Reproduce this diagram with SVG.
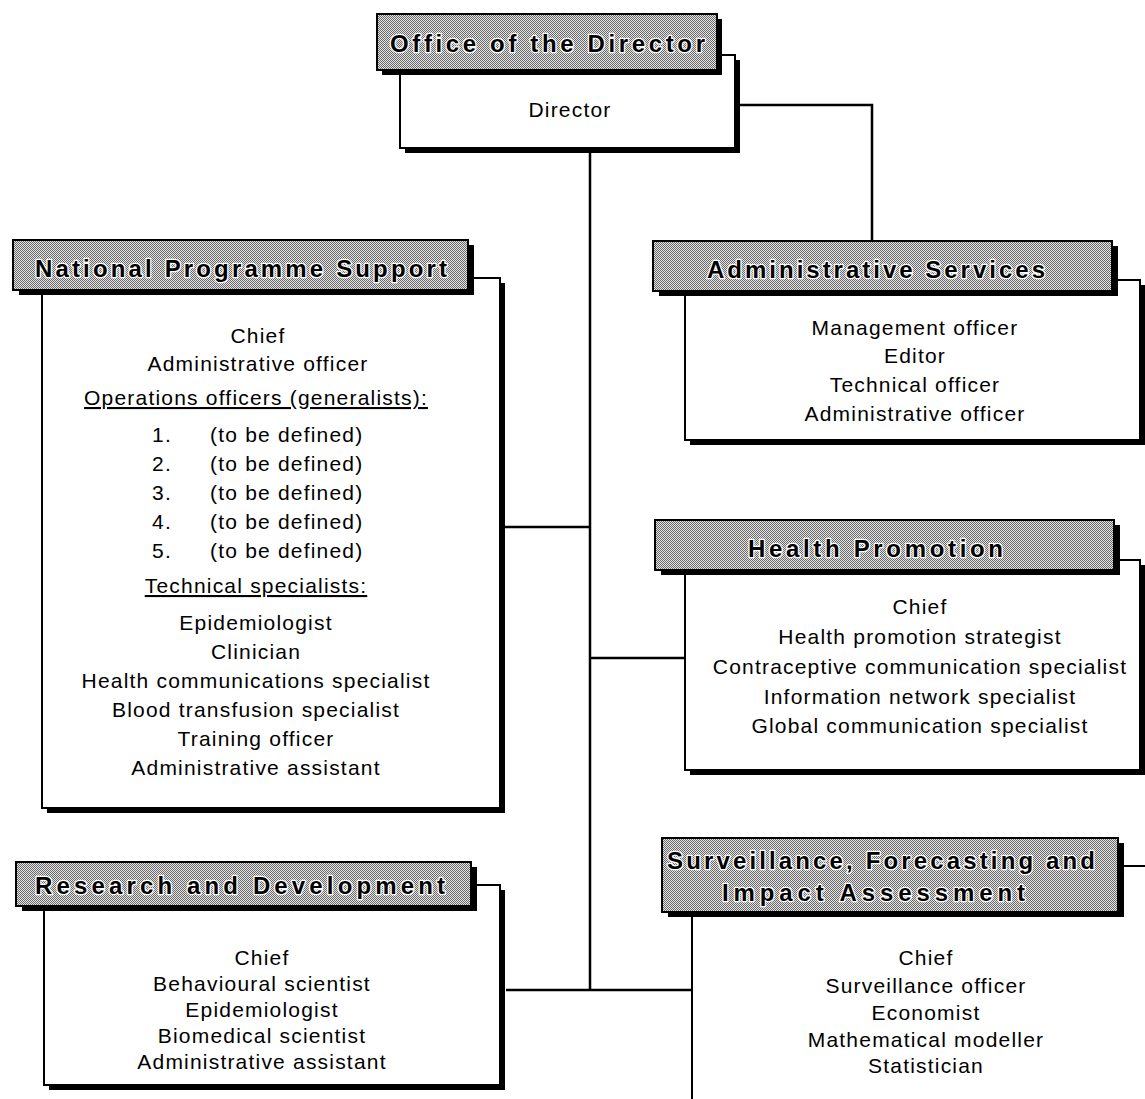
<svg xmlns="http://www.w3.org/2000/svg" width="1145" height="1099" viewBox="0 0 1145 1099">
<defs>
<pattern id="dither" width="2" height="2" patternUnits="userSpaceOnUse">
<rect width="2" height="2" fill="#e4e4e4"/>
<rect width="1" height="1" fill="#6a6a6a"/>
<rect x="1" y="1" width="1" height="1" fill="#6a6a6a"/>
</pattern>
</defs>
<style>
.sh{fill:#000}
.body{fill:#fff;stroke:#000;stroke-width:2}
.hdr{fill:url(#dither);stroke:#000;stroke-width:2}
.ht{font-family:"Liberation Sans",Arial,sans-serif;font-weight:bold;font-size:24px;fill:#000;stroke:#fff;stroke-width:2.5px;paint-order:stroke;stroke-linejoin:round}
.t{font-family:"Liberation Sans",Arial,sans-serif;font-size:21px;letter-spacing:1.2px;fill:#000}
.c{text-anchor:middle}
.u{text-decoration:underline}
.conn{fill:none;stroke:#000;stroke-width:2.5}
</style>

<g id="connectors">
<path class="conn" d="M735 105 H872 V242"/>
<path class="conn" d="M590 150 V990"/>
<path class="conn" d="M503 527 H590"/>
<path class="conn" d="M590 658 H686"/>
<path class="conn" d="M506 990 H692"/>
</g>

<g id="office-director">
<rect class="sh" x="405" y="60" width="335" height="93"/>
<rect class="body" x="400" y="55" width="335" height="93"/>
<rect class="sh" x="382" y="19" width="340" height="56"/>
<rect class="hdr" x="377" y="14" width="340" height="56"/>
<text class="ht" x="390" y="52" textLength="315" lengthAdjust="spacing">Office of the Director</text>
<text class="t c" x="570" y="117">Director</text>
</g>

<g id="national-programme-support">
<rect class="sh" x="47" y="283" width="458" height="530"/>
<rect class="body" x="42" y="278" width="458" height="530"/>
<rect class="sh" x="19" y="245" width="455" height="50"/>
<rect class="hdr" x="13" y="240" width="455" height="50"/>
<text class="ht" x="35" y="277" textLength="412" lengthAdjust="spacing">National Programme Support</text>
<text class="t c" x="258" y="343">Chief</text>
<text class="t c" x="258" y="371">Administrative officer</text>
<text class="t c u" x="256" y="405">Operations officers (generalists):</text>
<text class="t" x="152" y="442">1.</text><text class="t" x="210" y="442">(to be defined)</text>
<text class="t" x="152" y="471">2.</text><text class="t" x="210" y="471">(to be defined)</text>
<text class="t" x="152" y="500">3.</text><text class="t" x="210" y="500">(to be defined)</text>
<text class="t" x="152" y="529">4.</text><text class="t" x="210" y="529">(to be defined)</text>
<text class="t" x="152" y="558">5.</text><text class="t" x="210" y="558">(to be defined)</text>
<text class="t c u" x="256" y="593">Technical specialists:</text>
<text class="t c" x="256" y="630">Epidemiologist</text>
<text class="t c" x="256" y="659">Clinician</text>
<text class="t c" x="256" y="688">Health communications specialist</text>
<text class="t c" x="256" y="717">Blood transfusion specialist</text>
<text class="t c" x="256" y="746">Training officer</text>
<text class="t c" x="256" y="775">Administrative assistant</text>
</g>

<g id="administrative-services">
<rect class="sh" x="690" y="285" width="455" height="160"/>
<rect class="body" x="685" y="280" width="455" height="160"/>
<rect class="sh" x="659" y="246" width="459" height="50"/>
<rect class="hdr" x="653" y="241" width="459" height="50"/>
<text class="ht" x="707" y="278" textLength="338" lengthAdjust="spacing">Administrative Services</text>
<text class="t c" x="915" y="335">Management officer</text>
<text class="t c" x="915" y="363">Editor</text>
<text class="t c" x="915" y="392">Technical officer</text>
<text class="t c" x="915" y="421">Administrative officer</text>
</g>

<g id="health-promotion">
<rect class="sh" x="690" y="565" width="455" height="210"/>
<rect class="body" x="685" y="560" width="455" height="210"/>
<rect class="sh" x="661" y="525" width="459" height="50"/>
<rect class="hdr" x="655" y="520" width="459" height="50"/>
<text class="ht" x="748" y="557" textLength="255" lengthAdjust="spacing">Health Promotion</text>
<text class="t c" x="920" y="614">Chief</text>
<text class="t c" x="920" y="644">Health promotion strategist</text>
<text class="t c" x="920" y="674">Contraceptive communication specialist</text>
<text class="t c" x="920" y="704">Information network specialist</text>
<text class="t c" x="920" y="733">Global communication specialist</text>
</g>

<g id="surveillance">
<rect class="sh" x="697" y="871" width="460" height="240"/>
<rect class="body" x="692" y="866" width="460" height="240"/>
<rect class="sh" x="668" y="843" width="456" height="74"/>
<rect class="hdr" x="662" y="838" width="456" height="74"/>
<text class="ht" x="667" y="869" textLength="428" lengthAdjust="spacing">Surveillance, Forecasting and</text>
<text class="ht" x="722" y="901" textLength="303" lengthAdjust="spacing">Impact Assessment</text>
<text class="t c" x="926" y="965">Chief</text>
<text class="t c" x="926" y="993">Surveillance officer</text>
<text class="t c" x="926" y="1020">Economist</text>
<text class="t c" x="926" y="1047">Mathematical modeller</text>
<text class="t c" x="926" y="1073">Statistician</text>
</g>

<g id="research-development">
<rect class="sh" x="49" y="890" width="456" height="200"/>
<rect class="body" x="44" y="885" width="456" height="200"/>
<rect class="sh" x="22" y="867" width="455" height="44"/>
<rect class="hdr" x="16" y="862" width="455" height="44"/>
<text class="ht" x="35" y="894" textLength="410" lengthAdjust="spacing">Research and Development</text>
<text class="t c" x="262" y="965">Chief</text>
<text class="t c" x="262" y="991">Behavioural scientist</text>
<text class="t c" x="262" y="1017">Epidemiologist</text>
<text class="t c" x="262" y="1043">Biomedical scientist</text>
<text class="t c" x="262" y="1069">Administrative assistant</text>
</g>
</svg>
